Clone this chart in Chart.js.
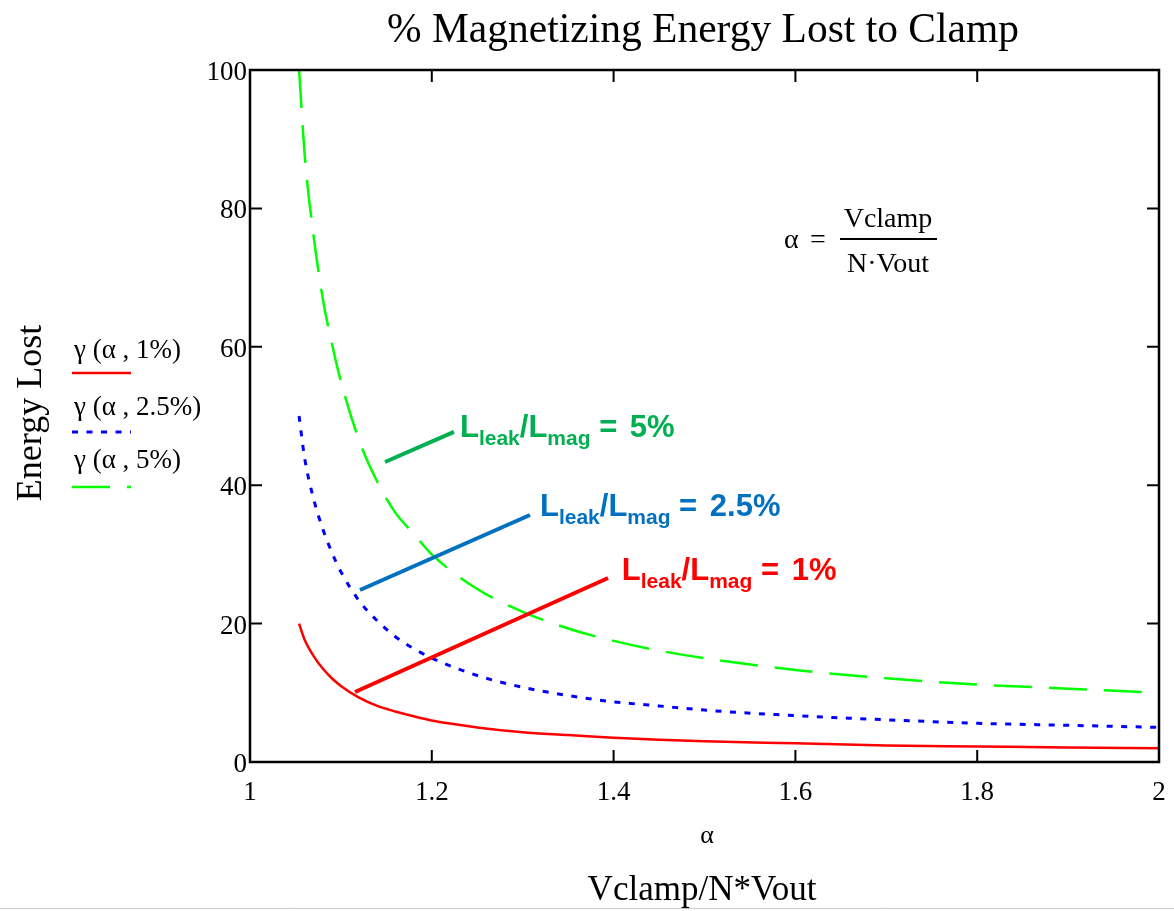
<!DOCTYPE html>
<html>
<head>
<meta charset="utf-8">
<script src="https://cdn.jsdelivr.net/npm/chart.js@4"></script>
<style>
  body { margin: 0; background: #fff; }
  #wrap { width: 1174px; height: 911px; }
</style>
</head>
<body>
<div id="wrap"><canvas id="chart" width="1174" height="911"></canvas></div>
<script>
// alpha = Vclamp / (N*Vout)
const alpha = [1.054, 1.06, 1.07, 1.08, 1.09, 1.1, 1.12, 1.14, 1.16, 1.18, 1.2, 1.25, 1.3, 1.35, 1.4, 1.45, 1.5, 1.6, 1.7, 1.8, 1.9, 2.0];
// energy lost (%) for Lleak/Lmag = 1%, 2.5%, 5%
const lost1 = [20, 17.7, 15.3, 13.5, 12.1, 11, 9.3, 8.1, 7.3, 6.6, 6, 5, 4.3, 3.9, 3.5, 3.2, 3, 2.7, 2.4, 2.25, 2.1, 2];
const lost25 = [50, 44, 38, 33.7, 30.3, 27.5, 23.3, 20.4, 18.1, 16.4, 15, 12.5, 10.8, 9.6, 8.7, 8.1, 7.5, 6.7, 6.1, 5.6, 5.3, 5];
const lost5 = [100, 88, 76, 67, 60.5, 55, 46.5, 40.5, 36, 33, 30, 25, 21.7, 19.3, 17.5, 16.1, 15, 13.3, 12.1, 11.2, 10.6, 10];
const seriesNames = ['γ (α , 1%)', 'γ (α , 2.5%)', 'γ (α , 5%)'];
const xTicks = [1, 1.2, 1.4, 1.6, 1.8, 2];
const yTicks = [0, 20, 40, 60, 80, 100];

// pointer lines and labels: [x1, y1, x2, y2] in data units
const notes = [
  { color: '#00b050', line: [1.1485, 43.35, 1.2244, 47.7], at: [1.231, 47.0], pct: '5%' },
  { color: '#0070c0', line: [1.121, 24.86, 1.308, 35.69], at: [1.319, 35.6], pct: '2.5%' },
  { color: '#ff0000', line: [1.1155, 10.12, 1.3939, 26.59], at: [1.409, 26.3], pct: '1%' }
];

const serif = '"Liberation Serif", "Times New Roman", serif';
const sans = '"Liberation Sans", Arial, sans-serif';

function pts(ys) {
  return alpha.map((a, i) => ({ x: a, y: ys[i] }));
}

function drawLabel(ctx, x, y, color, pct) {
  const parts = [
    ['L', 31, 0], ['leak', 21, 8], ['/L', 31, 0], ['mag', 21, 8], [' = ', 31, 0], [pct, 31, 0]
  ];
  ctx.fillStyle = color;
  ctx.textAlign = 'left';
  ctx.textBaseline = 'alphabetic';
  parts.forEach((p, i) => {
    ctx.font = 'bold ' + p[1] + 'px ' + sans;
    ctx.fillText(p[0], x, y + p[2]);
    x += ctx.measureText(p[0]).width + (i === 4 ? 4 : 0);
  });
}

const extras = {
  id: 'extras',
  afterDraw(chart) {
    const ctx = chart.ctx;
    const a = chart.chartArea;
    const xs = chart.scales.x;
    const ys = chart.scales.y;
    ctx.save();

    // frame with inward ticks
    ctx.strokeStyle = '#000';
    ctx.lineWidth = 2.5;
    ctx.strokeRect(a.left, a.top, a.right - a.left, a.bottom - a.top);
    ctx.lineWidth = 2;
    ctx.beginPath();
    xTicks.forEach(v => {
      const px = xs.getPixelForValue(v);
      ctx.moveTo(px, a.bottom); ctx.lineTo(px, a.bottom - 12);
      ctx.moveTo(px, a.top); ctx.lineTo(px, a.top + 12);
    });
    yTicks.forEach(v => {
      const py = ys.getPixelForValue(v);
      ctx.moveTo(a.left, py); ctx.lineTo(a.left + 12, py);
      ctx.moveTo(a.right, py); ctx.lineTo(a.right - 12, py);
    });
    ctx.stroke();

    // title and axis titles
    ctx.fillStyle = '#000';
    ctx.textAlign = 'center';
    ctx.textBaseline = 'alphabetic';
    ctx.font = '41.5px ' + serif;
    ctx.fillText('% Magnetizing Energy Lost to Clamp', 703, 42);
    ctx.font = '26px ' + serif;
    ctx.fillText('α', 707, 843);
    ctx.font = '35px ' + serif;
    ctx.fillText('Vclamp/N*Vout', 702, 900);
    ctx.save();
    ctx.translate(41, 413);
    ctx.rotate(-Math.PI / 2);
    ctx.font = '36px ' + serif;
    ctx.fillText('Energy Lost', 0, 0);
    ctx.restore();

    // legend
    const legY = [358, 415, 468];
    chart.data.datasets.forEach((ds, i) => {
      ctx.fillStyle = '#000';
      ctx.textAlign = 'left';
      ctx.font = '27px ' + serif;
      ctx.fillText(seriesNames[i], 74, legY[i]);
      ctx.strokeStyle = ds.borderColor;
      ctx.lineWidth = ds.borderWidth;
      ctx.setLineDash(ds.borderDash || []);
      ctx.beginPath();
      ctx.moveTo(72, legY[i] + 15 + i * 2);
      ctx.lineTo(131, legY[i] + 15 + i * 2);
      ctx.stroke();
      ctx.setLineDash([]);
    });

    // alpha definition
    ctx.fillStyle = '#000';
    ctx.font = '28px ' + serif;
    ctx.textAlign = 'left';
    ctx.fillText('α', 784, 248);
    ctx.fillText('=', 810, 248);
    ctx.textAlign = 'center';
    ctx.fillText('Vclamp', 888, 227);
    ctx.fillText('N·Vout', 888, 272);
    ctx.lineWidth = 2;
    ctx.strokeStyle = '#000';
    ctx.beginPath();
    ctx.moveTo(840, 239); ctx.lineTo(937, 239);
    ctx.stroke();

    // pointer lines with labels
    notes.forEach(n => {
      ctx.strokeStyle = n.color;
      ctx.lineWidth = 4;
      ctx.beginPath();
      ctx.moveTo(xs.getPixelForValue(n.line[0]), ys.getPixelForValue(n.line[1]));
      ctx.lineTo(xs.getPixelForValue(n.line[2]), ys.getPixelForValue(n.line[3]));
      ctx.stroke();
      drawLabel(ctx, xs.getPixelForValue(n.at[0]), ys.getPixelForValue(n.at[1]), n.color, n.pct);
    });

    // thin rule at the bottom of the page
    ctx.strokeStyle = '#c8c8c8';
    ctx.lineWidth = 1;
    ctx.beginPath();
    ctx.moveTo(0, 908.5); ctx.lineTo(1174, 908.5);
    ctx.stroke();
    ctx.restore();
  }
};

const ctx = document.getElementById('chart').getContext('2d');
new Chart(ctx, {
  type: 'line',
  data: {
    datasets: [
      { label: seriesNames[0], data: pts(lost1), borderColor: '#ff0000', borderWidth: 2.5, pointRadius: 0, cubicInterpolationMode: 'monotone' },
      { label: seriesNames[1], data: pts(lost25), borderColor: '#0000ff', borderWidth: 3, borderDash: [6, 8.5], pointRadius: 0, cubicInterpolationMode: 'monotone' },
      { label: seriesNames[2], data: pts(lost5), borderColor: '#00ff00', borderWidth: 2.5, borderDash: [38, 17], pointRadius: 0, cubicInterpolationMode: 'monotone' }
    ]
  },
  options: {
    responsive: false,
    animation: false,
    devicePixelRatio: 1,
    layout: { padding: { top: 70, right: 15, left: 0, bottom: 0 } },
    plugins: { legend: { display: false }, tooltip: { enabled: false } },
    scales: {
      x: {
        type: 'linear',
        min: 1,
        max: 2,
        afterFit: s => { s.height = 149; s.paddingLeft = 0; s.paddingRight = 0; },
        afterBuildTicks: s => { s.ticks = xTicks.map(v => ({ value: v })); },
        grid: { display: false, drawTicks: false },
        border: { display: false },
        ticks: {
          padding: 15,
          color: '#000',
          font: { family: serif, size: 27 },
          maxRotation: 0,
          callback: v => String(Number(v.toFixed(1)))
        }
      },
      y: {
        min: 0,
        max: 100,
        afterFit: s => { s.width = 250; s.paddingTop = 0; s.paddingBottom = 0; },
        afterBuildTicks: s => { s.ticks = yTicks.map(v => ({ value: v })); },
        grid: { display: false, drawTicks: false },
        border: { display: false },
        ticks: {
          padding: 3,
          color: '#000',
          font: { family: serif, size: 27 },
          labelOffset: 3
        }
      }
    }
  },
  plugins: [extras]
});
</script>
</body>
</html>
